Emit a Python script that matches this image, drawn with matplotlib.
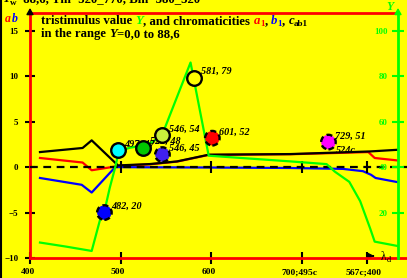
import numpy as np
import matplotlib
matplotlib.use("Agg")
import matplotlib.pyplot as plt
from matplotlib.lines import Line2D
from matplotlib.transforms import ScaledTranslation

SERIF = "Liberation Serif"
W, H = 407, 278

# chromaticities (left axis) against wavelength
lam_cab = [411, 458, 468, 497, 532, 562, 597, 687, 775, 805]
cab1 = [1.65, 2.1, 2.94, 0.18, 0.33, 0.62, 1.36, 1.43, 1.72, 1.9]

lam_a = [411, 458, 468, 490, 499, 532, 562, 597, 687, 773, 780, 805]
a1 = [1.0, 0.5, -0.35, 0.0, 0.15, 0.3, 0.6, 1.34, 1.41, 1.65, 1.0, 0.73]

lam_b = [411, 457, 468, 494, 520, 600, 687, 745, 767, 776, 781, 805]
b1 = [-1.2, -1.95, -2.8, 0.0, -0.02, -0.05, -0.1, -0.2, -0.45, -0.85, -1.2, -1.65]

# tristimulus value Y (right axis)
lam_Y = [411, 440, 468, 477, 482, 488, 494, 498, 510, 525, 535, 546,
         577, 597, 687, 727, 736, 752, 764, 775, 780, 805]
Yval = [6.8, 5.0, 3.1, 16.5, 20.5, 31, 40, 47, 48.5, 49.5, 51, 54.5,
        86, 45, 42.5, 41.3, 38, 33.5, 25, 13, 7.2, 5.3]

# marked samples
dot_lam = [482, 497, 525, 546, 546, 581, 601, 729]
dot_Y = [20, 47.5, 48.5, 54, 45.5, 79.3, 52.7, 51]
dot_color = ["#0000ff", "#00ffff", "#00c800", "#c8f03c", "#4020f0", "#ffff00", "#ff0000", "#ff00ff"]
dot_dashed = [True, False, False, False, True, False, True, True]
dot_label = ["482, 20", "497, 47", "525, 48", "546, 54", "546, 45", "581, 79", "601, 52", "729, 51"]

xticks = [400, 500, 600, 700, 771]
xlabels = ["400", "500", "600", "700;495c", "567c;400"]
yticks = [-10, -5, 0, 5, 10, 15]
ylabels = ["\u221210", "\u22125", "0", "5", "10", "15"]
Yticks = [20, 40, 60, 80, 100]

GREEN = "#00ff00"

fig = plt.figure(figsize=(W / 100, H / 100), dpi=100)
fig.patch.set_facecolor("#ffff00")

ax = fig.add_axes([30 / W, (H - 258) / H, 368 / W, 245.5 / H])
ax.set_facecolor("#ffff00")
ax.set_xlim(400, 805.7)
ax.set_ylim(-10, 17)

ax.plot(lam_cab, cab1, color="black", lw=1.6, zorder=3)
ax.plot(lam_a, a1, color="red", lw=1.6, zorder=2)
ax.plot(lam_b, b1, color="#0000ff", lw=1.6, zorder=2)

ax.axhline(0, 0, 1.03, color="black", ls=(0, (3.5, 2.5)), lw=1.6, clip_on=False, zorder=4)
ax.plot(xticks[1:], [0] * (len(xticks) - 1), "|", color="black", ms=8, mew=1.5, zorder=4)
ax.axhline(-10, 0, 1.03, color="red", lw=2, clip_on=False, zorder=5)

for s in ["left", "top"]:
    ax.spines[s].set_color("red")
    ax.spines[s].set_linewidth(2)
ax.spines["bottom"].set_visible(False)
ax.spines["right"].set_visible(False)

ax.set_xticks(xticks)
ax.set_xticklabels(xlabels)
ax.set_yticks(yticks)
ax.set_yticklabels(ylabels)
ax.tick_params(axis="x", direction="inout", length=8.5, width=1.5, color="black",
               labelsize=6.8, pad=3)
ax.tick_params(axis="y", direction="inout", length=7, width=1.5, color="black",
               labelsize=6.5, pad=5)
for lbl in ax.get_xticklabels() + ax.get_yticklabels():
    lbl.set_fontfamily(SERIF)
    lbl.set_fontweight("bold")
for lbl in ax.get_xticklabels():
    lbl.set_transform(lbl.get_transform() + ScaledTranslation(-2.5 / 100, 0, fig.dpi_scale_trans))

ax2 = ax.twinx()
ax2.set_ylim(0, 108)
for s in ["left", "top", "bottom"]:
    ax2.spines[s].set_visible(False)
ax2.spines["right"].set_color(GREEN)
ax2.spines["right"].set_linewidth(2)
ax2.plot(lam_Y, Yval, color=GREEN, lw=1.6, zorder=2)
ax2.set_yticks(Yticks)
ax2.tick_params(axis="y", direction="inout", length=8.5, width=1.5, color=GREEN,
                labelcolor=GREEN, labelsize=6.5, pad=-11.5)
for lbl in ax2.get_yticklabels():
    lbl.set_fontfamily(SERIF)
    lbl.set_fontweight("bold")
    lbl.set_horizontalalignment("right")

for lam, yv, c, dashed, lab in zip(dot_lam, dot_Y, dot_color, dot_dashed, dot_label):
    ax2.scatter([lam], [yv], s=110, facecolor=c, edgecolor="black", linewidths=1.7,
                linestyle=(0, (2.5, 1.5)) if dashed else "-", zorder=6)
    ax2.annotate(lab, (lam, yv), xytext=(4.6, 4.3), textcoords="offset points",
                 ha="left", va="center", fontsize=7.3, family=SERIF, style="italic",
                 weight="bold", zorder=5)
ax2.annotate("524c", (dot_lam[-1], dot_Y[-1]), xytext=(5.5, -6), textcoords="offset points",
             ha="left", va="center", fontsize=7.3, family=SERIF, style="italic",
             weight="bold", zorder=5)

# axis arrows
ax.annotate("", xy=(0, 1.03), xycoords="axes fraction", xytext=(0, 0.985),
            arrowprops=dict(arrowstyle="-|>,head_length=0.35,head_width=0.2", color="black", lw=1.2))
ax.annotate("", xy=(1, 1.03), xycoords="axes fraction", xytext=(1, 0.99),
            arrowprops=dict(arrowstyle="-|>,head_length=0.35,head_width=0.2", color=GREEN, lw=1.2))
ax.annotate("", xy=(0.944, 0.008), xycoords="axes fraction", xytext=(0.925, 0.008),
            arrowprops=dict(arrowstyle="-|>,head_length=0.45,head_width=0.22", color="black", lw=1.0))

fig.add_artist(Line2D([0.003, 0.003], [0, 1], color="black", lw=1.5))

renderer = fig.canvas.get_renderer()


def rich_text(x, y, parts, size=9.2):
    # parts: (text, colour, style, subscript, gap before in px)
    for s, color, style, sub, gap in parts:
        x += gap
        fs = size * (0.72 if sub else 1.0)
        dy = 2.5 if sub else 0
        t = fig.text(x / W, 1 - (y + dy) / H, s, color=color, fontsize=fs, style=style,
                     weight="bold", family=SERIF, va="baseline", ha="left")
        x += t.get_window_extent(renderer=renderer).width


rich_text(41, 24, [
    ("tristimulus value", "black", "normal", False, 0),
    ("Y", GREEN, "italic", False, 3.3),
    (", and chromaticities", "black", "normal", False, 0),
    ("a", "red", "italic", False, 3.3),
    ("1", "red", "normal", True, 0),
    (",", "black", "normal", False, 0),
    ("b", "#0000ff", "italic", False, 3.3),
    ("1", "#0000ff", "normal", True, 0),
    (",", "black", "normal", False, 0),
    ("c", "black", "italic", False, 3.3),
    ("ab1", "black", "normal", True, 0),
])
rich_text(41, 37, [
    ("in the range", "black", "normal", False, 0),
    ("Y", "black", "italic", False, 3.3),
    ("=0,0 to 88,6", "black", "normal", False, 0),
])
rich_text(2, 2.5, [
    ("Y", "black", "italic", False, 0),
    ("w", "black", "normal", True, 0),
    ("=88,6, Tm=520_770, Bm=380_520", "black", "normal", False, 0),
])
rich_text(5, 22, [
    ("a", "red", "italic", False, 0),
    ("b", "#0000ff", "italic", False, 1),
], size=8.5)
rich_text(386, 10, [("Y", GREEN, "italic", False, 0)], size=8.5)
fig.text(381 / W, 1 - 260 / H, "\u03bb", fontsize=8.5, family=SERIF, color="black",
         va="baseline", ha="left")
fig.text(386.5 / W, 1 - 262.5 / H, "d", fontsize=6, family=SERIF, color="black",
         va="baseline", ha="left")

fig.savefig("out.png", dpi=100, facecolor=fig.get_facecolor())
